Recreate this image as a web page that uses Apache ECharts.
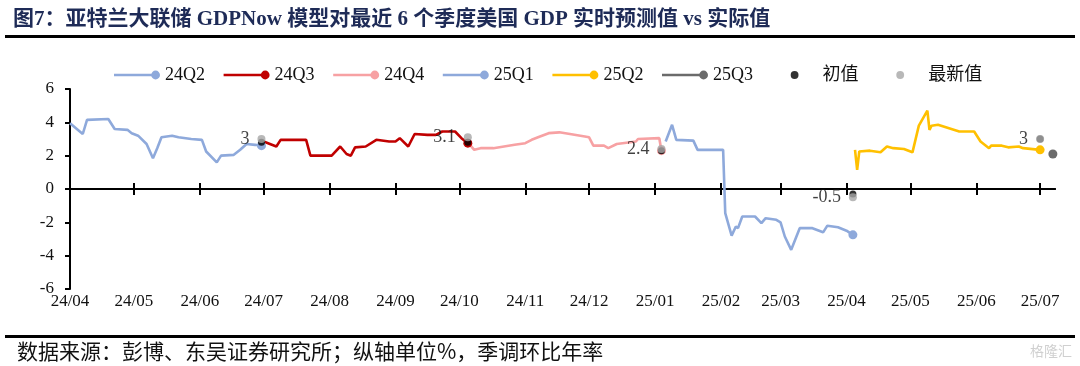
<!DOCTYPE html>
<html><head><meta charset="utf-8">
<script src="https://cdn.jsdelivr.net/npm/echarts@6/dist/echarts.min.js"></script>
<style>html,body{margin:0;padding:0;background:#fff}#c{width:1080px;height:366px}</style>
</head><body><div id="c"></div>
<script>
const titleText = '图7：亚特兰大联储 GDPNow 模型对最近 6 个季度美国 GDP 实时预测值 vs 实际值';
const sourceText = '数据来源：彭博、东吴证券研究所；纵轴单位%，季调环比年率';
const watermarkText = '格隆汇';
const seriesNames = ['24Q2', '24Q3', '24Q4', '25Q1', '25Q2', '25Q3'];
const initialName = '初值';
const latestName = '最新值';

const q2_24 = [['2024-04-01',3.95],['2024-04-07',3.3],['2024-04-09',4.15],['2024-04-19',4.2],['2024-04-22',3.6],['2024-04-28',3.55],['2024-04-30',3.35],['2024-05-03',3.2],['2024-05-07',2.7],['2024-05-10',1.85],['2024-05-12',2.45],['2024-05-14',3.1],['2024-05-19',3.2],['2024-05-22',3.1],['2024-05-28',3.0],['2024-06-02',2.95],['2024-06-04',2.25],['2024-06-09',1.6],['2024-06-11',2.0],['2024-06-17',2.05],['2024-06-20',2.35],['2024-06-23',2.7],['2024-06-27',2.65],['2024-06-30',2.6]];
const q3_24 = [['2024-07-01',2.85],['2024-07-07',2.55],['2024-07-09',2.95],['2024-07-21',2.95],['2024-07-23',2.0],['2024-08-02',2.0],['2024-08-06',2.55],['2024-08-09',2.1],['2024-08-11',2.0],['2024-08-13',2.5],['2024-08-18',2.55],['2024-08-23',2.95],['2024-08-29',2.85],['2024-09-01',2.85],['2024-09-03',3.05],['2024-09-07',2.55],['2024-09-10',3.3],['2024-09-16',3.25],['2024-09-20',3.25],['2024-09-23',3.45],['2024-09-29',3.45],['2024-10-02',3.05],['2024-10-05',2.75]];
const q4_24 = [['2024-10-06',2.65],['2024-10-08',2.35],['2024-10-11',2.45],['2024-10-17',2.45],['2024-10-27',2.65],['2024-11-01',2.75],['2024-11-04',2.95],['2024-11-07',3.1],['2024-11-12',3.35],['2024-11-17',3.4],['2024-11-22',3.3],['2024-11-29',3.15],['2024-12-01',3.1],['2024-12-03',2.6],['2024-12-08',2.6],['2024-12-10',2.45],['2024-12-14',2.7],['2024-12-23',2.85],['2024-12-24',3.0],['2025-01-03',3.05],['2025-01-04',2.3]];
const q1_25 = [['2025-01-06',2.85],['2025-01-09',3.85],['2025-01-11',2.95],['2025-01-19',2.9],['2025-01-21',2.35],['2025-02-02',2.35],['2025-02-03',-1.45],['2025-02-06',-2.8],['2025-02-08',-2.25],['2025-02-09',-2.35],['2025-02-11',-1.65],['2025-02-17',-1.65],['2025-02-20',-2.05],['2025-02-22',-1.75],['2025-02-27',-1.85],['2025-03-01',-2.0],['2025-03-03',-2.85],['2025-03-06',-3.65],['2025-03-10',-2.35],['2025-03-16',-2.35],['2025-03-21',-2.6],['2025-03-23',-2.2],['2025-03-28',-2.3],['2025-04-01',-2.5],['2025-04-04',-2.75]];
const q2_25 = [['2025-04-05',2.35],['2025-04-06',1.15],['2025-04-07',2.25],['2025-04-12',2.3],['2025-04-17',2.2],['2025-04-20',2.55],['2025-04-23',2.45],['2025-04-28',2.4],['2025-05-02',2.2],['2025-05-05',3.8],['2025-05-09',4.7],['2025-05-10',3.55],['2025-05-11',3.8],['2025-05-14',3.85],['2025-05-24',3.45],['2025-05-31',3.45],['2025-06-03',2.85],['2025-06-07',2.45],['2025-06-08',2.6],['2025-06-13',2.6],['2025-06-16',2.5],['2025-06-21',2.55],['2025-06-23',2.45],['2025-07-01',2.35]];
const q3_25 = [['2025-07-07',2.1]];
const initialValues = [['2024-06-30',2.8],['2024-10-05',2.8],['2025-01-04',2.3],['2025-04-04',-0.3],['2025-07-01',3.0]];
const latestValues = [['2024-06-30',3.0],['2024-10-05',3.1],['2025-01-04',2.4],['2025-04-04',-0.5],['2025-07-01',3.0]];

const xTickDates = ['2024-04-01','2024-05-01','2024-06-01','2024-07-01','2024-08-01','2024-09-01','2024-10-01','2024-11-01','2024-12-01','2025-01-01','2025-02-01','2025-03-01','2025-04-01','2025-05-01','2025-06-01','2025-07-01'];
const xTickLabels = ['24/04','24/05','24/06','24/07','24/08','24/09','24/10','24/11','24/12','25/01','25/02','25/03','25/04','25/05','25/06','25/07'];
const xMin = '2024-04-01', xMax = '2025-07-08';
const yMin = -6, yMax = 6, yStep = 2;

const seriesData = [q2_24, q3_24, q4_24, q1_25, q2_25, q3_25];
const colors = ['#8EA9DB', '#C00000', '#F7A1A3', '#8EA9DB', '#FFC000', '#6B6B6B'];

function ts(s) { const p = s.split('-').map(Number); return Date.UTC(p[0], p[1] - 1, p[2]); }
const xTickTs = xTickDates.map(ts);

const serif = '"Liberation Serif", "Times New Roman", "Noto Sans CJK SC", serif';
const lineIcon = 'path://M0,0M47,10M0,3.8L41,3.8L41,6.2L0,6.2Z M47,5A4.5,4.5 0 1 1 38,5A4.5,4.5 0 1 1 47,5Z';
const dotIcon = 'path://M0,0M47,10M27.5,5A4,4 0 1 1 19.5,5A4,4 0 1 1 27.5,5Z';

const lineSeries = seriesNames.map((name, i) => {
  const arr = seriesData[i];
  return {
    name, type: 'line', xAxisIndex: 0, yAxisIndex: 0, z: 2,
    symbol: 'none', showSymbol: true, animation: false,
    color: colors[i],
    lineStyle: { color: colors[i], width: 2.6 },
    itemStyle: { color: colors[i] },
    data: arr.map((d, k) => k === arr.length - 1
      ? { value: [ts(d[0]), d[1]], symbol: 'circle', symbolSize: 9 }
      : { value: [ts(d[0]), d[1]] })
  };
});

function xAxisBase() {
  return { type: 'value', min: ts(xMin), max: ts(xMax), position: 'bottom', splitLine: { show: false } };
}

const option = {
  animation: false,
  backgroundColor: '#fff',
  title: {
    text: titleText, left: 8, top: 4,
    textStyle: { fontFamily: serif, fontSize: 21, fontWeight: 'bold', color: '#1E2B57' }
  },
  legend: {
    left: 114, top: 66, itemGap: 18.6, itemWidth: 46, itemHeight: 10, padding: 0,
    textStyle: { fontFamily: serif, fontSize: 18, color: '#111' },
    data: seriesNames.map(n => ({ name: n, icon: lineIcon }))
      .concat([{ name: initialName, icon: dotIcon }, { name: latestName, icon: dotIcon }])
  },
  grid: { left: 70, right: 25, top: 89, bottom: 77 },
  xAxis: [
    Object.assign(xAxisBase(), {
      axisLine: { show: false, onZero: false }, axisTick: { show: false },
      axisLabel: {
        customValues: xTickTs, margin: 4, fontFamily: serif, fontSize: 17, color: '#111',
        formatter: v => { const i = xTickTs.indexOf(v); return i >= 0 ? xTickLabels[i] : ''; }
      }
    }),
    Object.assign(xAxisBase(), {
      axisLine: { show: true, onZero: true, onZeroAxisIndex: 0, lineStyle: { color: '#000', width: 2 } },
      axisTick: { show: true, inside: true, length: 6, customValues: xTickTs, lineStyle: { color: '#000', width: 2 } },
      axisLabel: { show: false }
    }),
    Object.assign(xAxisBase(), {
      axisLine: { show: true, onZero: true, onZeroAxisIndex: 0, lineStyle: { color: '#000', width: 2 } },
      axisTick: { show: true, inside: false, length: 6, customValues: xTickTs, lineStyle: { color: '#000', width: 2 } },
      axisLabel: { show: false }
    })
  ],
  yAxis: {
    type: 'value', min: yMin, max: yMax, interval: yStep,
    axisLine: { show: true, onZero: false, lineStyle: { color: '#000', width: 2 } },
    axisTick: { show: true, length: 5, lineStyle: { color: '#000', width: 2 } },
    axisLabel: { margin: 16, fontFamily: serif, fontSize: 17, color: '#111' },
    splitLine: { show: false }
  },
  series: lineSeries.concat([
    {
      name: initialName, type: 'scatter', z: 5, symbol: 'circle', symbolSize: 7,
      itemStyle: { color: '#000' },
      data: initialValues.map(d => [ts(d[0]), d[1]])
    },
    {
      name: latestName, type: 'scatter', z: 6, symbol: 'circle', symbolSize: 8,
      itemStyle: { color: '#A6A6A6' },
      label: {
        show: true, position: 'left', distance: 8, fontFamily: serif, fontSize: 18, color: '#111',
        formatter: p => String(p.value[1])
      },
      data: latestValues.map(d => [ts(d[0]), d[1]])
    }
  ]),
  graphic: [
    { type: 'rect', shape: { x: 5, y: 35, width: 1070, height: 3 }, style: { fill: '#000' } },
    { type: 'rect', shape: { x: 5, y: 335, width: 1070, height: 3 }, style: { fill: '#000' } },
    { type: 'text', left: 17, top: 341, style: { text: sourceText, font: '21px "Noto Sans CJK SC"', fill: '#111' } },
    { type: 'text', right: 8, top: 344, style: { text: watermarkText, font: '14px "Noto Sans CJK SC"', fill: '#d0d0d0' } }
  ]
};

const chart = echarts.init(document.getElementById('c'), null, { renderer: 'canvas' });
chart.setOption(option);
</script>
</body></html>
